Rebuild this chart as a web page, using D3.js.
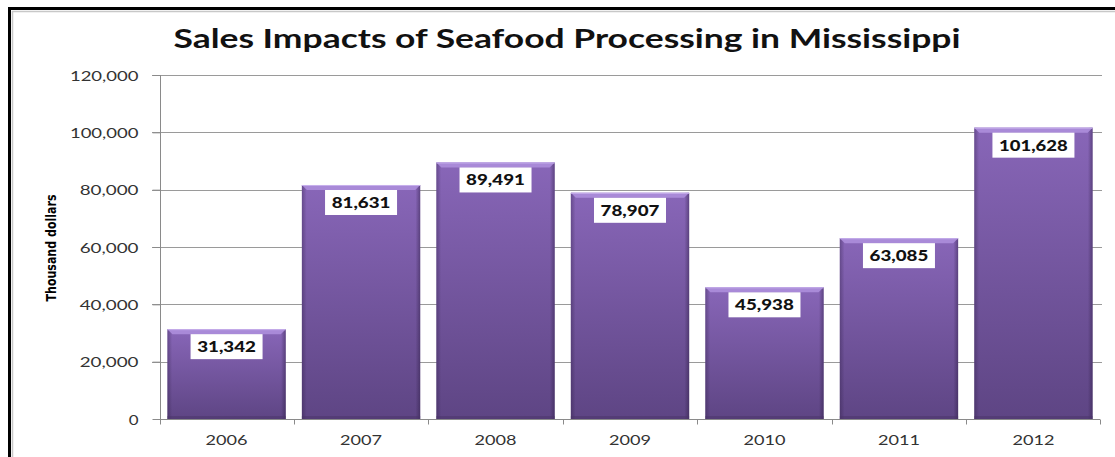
<!DOCTYPE html>
<html><head><meta charset="utf-8">
<script src="https://cdn.jsdelivr.net/npm/d3@7"></script>
<style>html,body{margin:0;padding:0;background:#fff;}svg{display:block;}</style>
</head><body>
<svg id="c" width="1115" height="457"></svg>
<script>
const categories = ["2006","2007","2008","2009","2010","2011","2012"];
const values = [31342, 81631, 89491, 78907, 45938, 63085, 101628];
const yTicks = [0, 20000, 40000, 60000, 80000, 100000, 120000];
const titleText = "Sales Impacts of Seafood Processing in Mississippi";
const yTitle = "Thousand dollars";

const svg = d3.select("#c");
const W = 1115, H = 457;
const plot = {left:160, right:1100, top:75, bottom:419};

// frame
svg.append("rect").attr("x",0).attr("y",0).attr("width",W).attr("height",H).attr("fill","#fff");
svg.append("line").attr("x1",8).attr("x2",W).attr("y1",8.5).attr("y2",8.5).attr("stroke","#000").attr("stroke-width",3);
svg.append("line").attr("x1",9.5).attr("x2",9.5).attr("y1",7).attr("y2",H).attr("stroke","#000").attr("stroke-width",3);
svg.append("line").attr("x1",12).attr("x2",W).attr("y1",11.5).attr("y2",11.5).attr("stroke","#c8c8c8").attr("stroke-width",1.5);
svg.append("line").attr("x1",12.5).attr("x2",12.5).attr("y1",11).attr("y2",H).attr("stroke","#c8c8c8").attr("stroke-width",1.5);

const x = d3.scaleBand().domain(categories).range([plot.left, plot.right]).paddingInner(0.12).paddingOuter(0.055);
const y = d3.scaleLinear().domain([0,120000]).range([plot.bottom, plot.top]);
const fmt = d3.format(",");

const defs = svg.append("defs");
const gv = defs.append("linearGradient").attr("id","gv").attr("x1",0).attr("y1",0).attr("x2",0).attr("y2",1);
gv.append("stop").attr("offset","0%").attr("stop-color","#8866b8");
gv.append("stop").attr("offset","100%").attr("stop-color","#5e4584");
const gh = defs.append("linearGradient").attr("id","gh").attr("x1",0).attr("y1",0).attr("x2",1).attr("y2",0);
gh.append("stop").attr("offset","0%").attr("stop-color","#2a1a40").attr("stop-opacity",0.35);
gh.append("stop").attr("offset","4%").attr("stop-color","#2a1a40").attr("stop-opacity",0.0);
gh.append("stop").attr("offset","96%").attr("stop-color","#2a1a40").attr("stop-opacity",0.0);
gh.append("stop").attr("offset","100%").attr("stop-color","#2a1a40").attr("stop-opacity",0.45);

// gridlines
const grid = svg.append("g");
grid.selectAll("line").data(yTicks.filter(d=>d>0)).join("line")
  .attr("x1",152).attr("x2",plot.right+2)
  .attr("y1",d=>Math.round(y(d))+0.5).attr("y2",d=>Math.round(y(d))+0.5)
  .attr("stroke","#9a9a9a").attr("stroke-width",1);

const tickFont = "Lato, 'Open Sans', sans-serif";

// y axis
const yAxis = svg.append("g").attr("transform",`translate(${plot.left+0.5},0)`)
  .call(d3.axisLeft(y).tickValues(yTicks).tickFormat(fmt).tickSize(8).tickPadding(14));
yAxis.select(".domain").attr("d",`M0,${plot.top}V${plot.bottom+5}`).attr("stroke","#8a8a8a");
yAxis.selectAll(".tick line").attr("stroke","#8a8a8a");
yAxis.selectAll(".tick text").attr("font-family",tickFont).attr("font-size",14)
  .attr("fill","#333").attr("dy","0.36em").attr("x",-22)
  .attr("textLength",function(){return 9.8*this.textContent.length;}).attr("lengthAdjust","spacingAndGlyphs");

// x axis
const xAxisG = svg.append("g").attr("transform",`translate(0,${plot.bottom+0.5})`);
xAxisG.append("line").attr("x1",plot.left).attr("x2",plot.right).attr("stroke","#8a8a8a");
const bounds = d3.range(categories.length+1).map(i => i===categories.length ? plot.right : x(categories[i]) - x.step()*x.paddingInner()/2);
bounds[0] = plot.left;
xAxisG.selectAll("line.tk").data(bounds).join("line").attr("class","tk")
  .attr("x1",d=>Math.round(d)+0.5).attr("x2",d=>Math.round(d)+0.5).attr("y1",0).attr("y2",5).attr("stroke","#8a8a8a");
xAxisG.selectAll("text").data(categories).join("text")
  .attr("x",d=>x(d)+x.bandwidth()/2).attr("y",25)
  .attr("text-anchor","middle").attr("font-family",tickFont).attr("font-size",14)
  .attr("fill","#333").attr("textLength",42).attr("lengthAdjust","spacingAndGlyphs").text(d=>d);

// bars
const bars = svg.append("g").selectAll("g").data(categories.map((c,i)=>({c,v:values[i]}))).join("g");
bars.append("rect").attr("x",d=>x(d.c)).attr("y",d=>y(d.v)).attr("width",x.bandwidth()).attr("height",d=>y(0)-y(d.v))
  .attr("fill","url(#gv)");
bars.append("rect").attr("x",d=>x(d.c)).attr("y",d=>y(d.v)).attr("width",x.bandwidth()).attr("height",d=>y(0)-y(d.v))
  .attr("fill","url(#gh)");
// top bevel
bars.append("path").attr("d",d=>{
  const x0=x(d.c), x1=x0+x.bandwidth(), t=y(d.v), b=5;
  return `M${x0},${t}L${x1},${t}L${x1-b},${t+b}L${x0+b},${t+b}Z`;
}).attr("fill","#ad8edc").attr("opacity",0.9);
bars.append("line").attr("x1",d=>x(d.c)).attr("x2",d=>x(d.c)+x.bandwidth()).attr("y1",d=>y(d.v)+0.5).attr("y2",d=>y(d.v)+0.5)
  .attr("stroke","#c7b0ec").attr("stroke-width",1);
// bottom shade
bars.append("rect").attr("x",d=>x(d.c)).attr("y",y(0)-3).attr("width",x.bandwidth()).attr("height",3).attr("fill","#4a3468").attr("opacity",0.5);

// data labels
bars.each(function(d){
  const g = d3.select(this);
  const cx = x(d.c)+x.bandwidth()/2, top = y(d.v)+5;
  const s = fmt(d.v);
  const bw = d.v >= 100000 ? 82 : 72;
  g.append("rect").attr("x",cx-bw/2).attr("y",top).attr("width",bw).attr("height",25).attr("fill","#fff");
  g.append("text").attr("x",cx).attr("y",top+18).attr("text-anchor","middle")
    .attr("font-family","Lato, 'Open Sans', sans-serif").attr("font-weight","900").attr("font-size",15)
    .attr("textLength",9.8*s.length).attr("lengthAdjust","spacingAndGlyphs")
    .attr("fill","#111").text(s);
});

// title
svg.append("text").attr("x",567).attr("y",48).attr("text-anchor","middle")
  .attr("font-family","Lato, 'Open Sans', sans-serif").attr("font-weight","bold").attr("font-size",26)
  .attr("fill","#111").attr("textLength",787).attr("lengthAdjust","spacingAndGlyphs").text(titleText);

// y title
svg.append("text").attr("transform","translate(56,248) rotate(-90)").attr("text-anchor","middle")
  .attr("font-family","'Liberation Sans Narrow', 'Arial Narrow', 'DejaVu Sans Condensed', sans-serif").attr("font-weight","bold")
  .attr("font-size",14).attr("fill","#000").attr("textLength",107).attr("lengthAdjust","spacingAndGlyphs").text(yTitle);
</script>
</body></html>
